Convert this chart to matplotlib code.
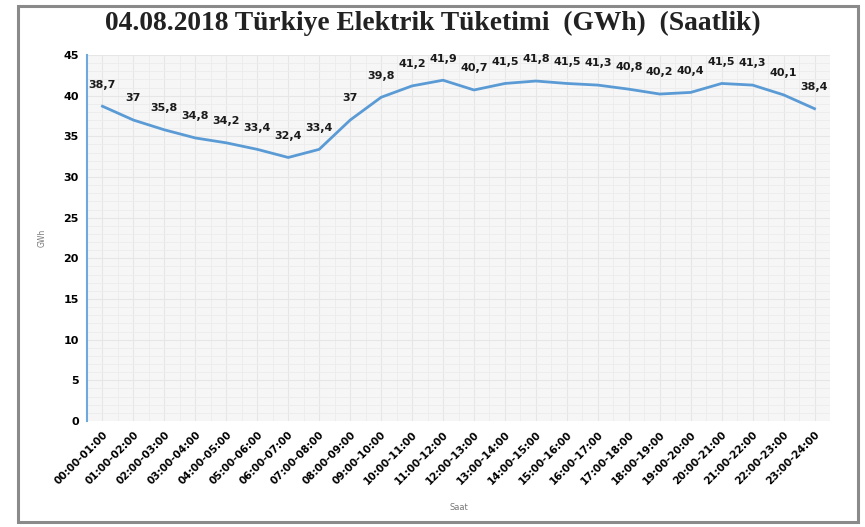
import matplotlib
matplotlib.use("Agg")
import matplotlib.pyplot as plt
from matplotlib.patches import Rectangle
from matplotlib.ticker import MultipleLocator

hours = [f"{h:02d}:00-{h + 1:02d}:00" for h in range(24)]
consumption = [38.7, 37, 35.8, 34.8, 34.2, 33.4, 32.4, 33.4, 37, 39.8, 41.2, 41.9,
               40.7, 41.5, 41.8, 41.5, 41.3, 40.8, 40.2, 40.4, 41.5, 41.3, 40.1, 38.4]
title = "04.08.2018 Türkiye Elektrik Tüketimi  (GWh)  (Saatlik)"

fig = plt.figure(figsize=(8.65, 5.27), dpi=100)
fig.patch.set_facecolor("white")

# outer frame
fig.add_artist(Rectangle((18 / 865, 5 / 527), 840 / 865, 516 / 527,
                         transform=fig.transFigure, fill=False,
                         edgecolor="#8a8a8a", linewidth=2.2))

ax = fig.add_axes([87 / 865, 1 - 421 / 527, 743 / 865, 366 / 527])
ax.set_facecolor("#f6f6f6")

x = list(range(len(hours)))
ax.plot(x, consumption, color="#5b9bd5", linewidth=2.0, zorder=3)

for xi, v in zip(x, consumption):
    txt = f"{v:g}".replace(".", ",")
    ax.annotate(txt, (xi, v), xytext=(0, 12), textcoords="offset points",
                ha="center", va="bottom", fontsize=8, fontweight="bold",
                color="#1a1a1a", zorder=4)

ax.set_xlim(-0.5, len(hours) - 0.5)
ax.set_ylim(0, 45)
ax.yaxis.set_major_locator(MultipleLocator(5))
ax.yaxis.set_minor_locator(MultipleLocator(1))
ax.set_xticks(x)
ax.set_xticks([i + 0.5 for i in range(-1, len(hours))], minor=True)
ax.set_xticklabels(hours, rotation=45, ha="right", rotation_mode="anchor",
                   fontsize=7.5, fontweight="bold")
for lab in ax.get_yticklabels():
    lab.set_fontweight("bold")
    lab.set_fontsize(8)

ax.grid(which="major", color="#e6e6e6", linewidth=0.8)
ax.grid(which="minor", color="#ececec", linewidth=0.6)
ax.set_axisbelow(True)
ax.tick_params(axis="both", which="both", length=0, pad=6)

for side in ("top", "right", "bottom"):
    ax.spines[side].set_visible(False)
ax.spines["left"].set_color("#6fa8dc")
ax.spines["left"].set_linewidth(1.5)

ax.set_ylabel("GWh", fontsize=5.5, color="#777777", labelpad=12)
ax.set_xlabel("Saat", fontsize=6, color="#777777", labelpad=12)

fig.text(0.5, 1 - 23 / 527, title, ha="center", va="center",
         fontsize=19.8, fontweight="bold", family="Liberation Serif",
         color="#222222")

fig.savefig("out.png", dpi=100)
